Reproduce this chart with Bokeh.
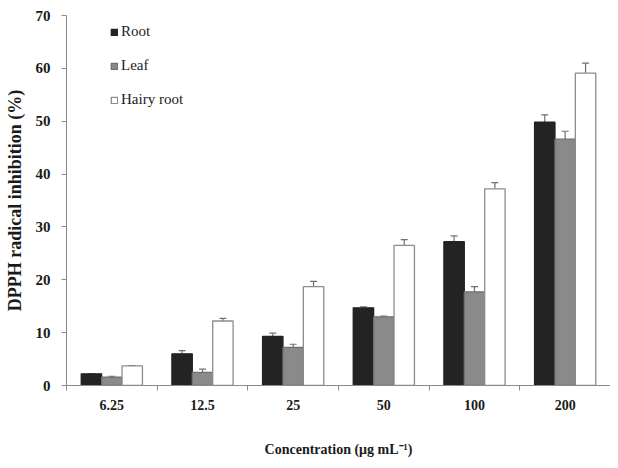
from bokeh.plotting import figure
from bokeh.models import ColumnDataSource, FixedTicker, Whisker, TeeHead, Legend, LegendItem, Range1d
from bokeh.transform import dodge
from bokeh.embed import file_html
from bokeh.resources import INLINE

concentrations = ["6.25", "12.5", "25", "50", "100", "200"]
root = [2.2, 6.0, 9.3, 14.7, 27.2, 49.8]
root_err = [0.05, 0.6, 0.6, 0.2, 1.1, 1.4]
leaf = [1.6, 2.5, 7.2, 13.0, 17.7, 46.6]
leaf_err = [0.15, 0.6, 0.6, 0.15, 1.0, 1.5]
hairy = [3.7, 12.2, 18.7, 26.5, 37.2, 59.1]
hairy_err = [0.05, 0.5, 1.0, 1.1, 1.2, 1.9]
y_ticks = [0, 10, 20, 30, 40, 50, 60, 70]

centers = [i + 0.5 for i in range(len(concentrations))]
bounds = [i for i in range(len(concentrations) + 1)]

FONT = "Liberation Serif"
BAR_W = 0.225

p = figure(width=610, height=460, output_backend="svg", toolbar_location=None,
           x_range=Range1d(0, len(concentrations)), y_range=Range1d(0, 70),
           min_border_left=66, min_border_right=0, min_border_top=15, min_border_bottom=75)
p.outline_line_color = None
p.grid.grid_line_color = None
p.background_fill_color = "white"

series = [
    ("Root", root, root_err, -BAR_W, "#232323", "#232323"),
    ("Leaf", leaf, leaf_err, 0.0, "#8a8a8a", "#6f6f6f"),
    ("Hairy root", hairy, hairy_err, BAR_W, "white", "#8c8c8c"),
]

items = []
for name, vals, errs, off, fill, line in series:
    src = ColumnDataSource(dict(x=centers, top=vals,
                                upper=[v + e for v, e in zip(vals, errs)]))
    r = p.vbar(x=dodge("x", off), top="top", width=BAR_W, source=src,
               fill_color=fill, line_color=line, line_width=1.3)
    w = Whisker(source=src, base=dodge("x", off), lower="top", upper="upper",
                line_color="#707070", line_width=1.2, lower_head=None,
                upper_head=TeeHead(size=7, line_color="#707070", line_width=1.2))
    p.add_layout(w)
    items.append(LegendItem(label=name, renderers=[r]))

legend = Legend(items=items, location=(44, 277), padding=0, spacing=17,
                glyph_width=8, glyph_height=8, label_standoff=3,
                label_text_font=FONT, label_text_font_size="15px",
                label_text_color="#222222",
                border_line_color=None, background_fill_alpha=0)
p.add_layout(legend)

p.xaxis.ticker = FixedTicker(ticks=centers, minor_ticks=bounds)
p.xaxis.major_label_overrides = {c: lab for c, lab in zip(centers, concentrations)}
p.xaxis.major_tick_out = 0
p.xaxis.major_tick_in = 0
p.xaxis.minor_tick_out = 5
p.xaxis.minor_tick_in = 0
p.xaxis.minor_tick_line_color = "#8a8a8a"
p.xaxis.major_label_standoff = 9
p.xaxis.axis_label = "Concentration (μg mL⁻¹)"
p.xaxis.axis_label_standoff = 29

p.yaxis.ticker = FixedTicker(ticks=y_ticks)
p.yaxis.minor_tick_line_color = None
p.yaxis.major_tick_out = 5
p.yaxis.major_tick_in = 0
p.yaxis.major_label_standoff = 11
p.yaxis.axis_label = "DPPH radical inhibition (%)"
p.yaxis.axis_label_standoff = 8

for ax in (p.xaxis, p.yaxis):
    ax.axis_line_color = "#8a8a8a"
    ax.major_tick_line_color = "#8a8a8a"
    ax.major_label_text_font = FONT
    ax.major_label_text_font_style = "bold"
    ax.major_label_text_color = "#1a1a1a"
    ax.axis_label_text_font = FONT
    ax.axis_label_text_font_style = "bold"
    ax.axis_label_text_color = "#1a1a1a"

p.xaxis.major_label_text_font_size = "14px"
p.yaxis.major_label_text_font_size = "15px"
p.xaxis.axis_label_text_font_size = "14px"
p.yaxis.axis_label_text_font_size = "18px"

open("out.html", "w").write(file_html(p, INLINE))
